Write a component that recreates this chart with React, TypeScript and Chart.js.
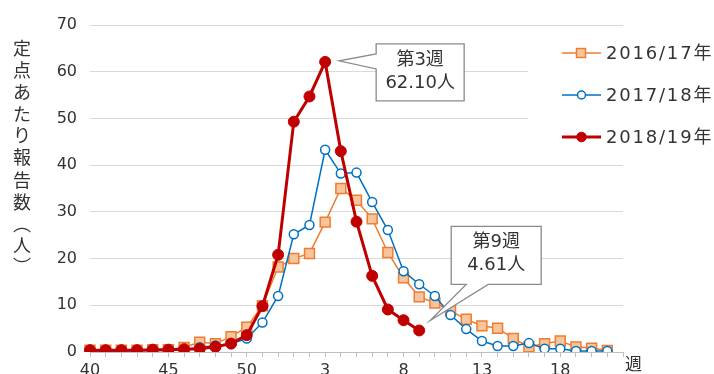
import React, { useEffect, useRef } from "react";
import { Chart, registerables } from "chart.js";

Chart.register(...registerables);

const weeks = [40, 41, 42, 43, 44, 45, 46, 47, 48, 49, 50, 51, 52, 1, 2, 3, 4, 5, 6, 7, 8, 9, 10, 11, 12, 13, 14, 15, 16, 17, 18, 19, 20, 21, 22];
const seasonLabels = ["2016/17年", "2017/18年", "2018/19年"];
const season1617 = [0.4, 0.4, 0.4, 0.4, 0.5, 0.5, 1.0, 2.1, 1.8, 3.3, 5.3, 9.9, 18.2, 20.0, 21.1, 27.8, 35.0, 32.5, 28.5, 21.3, 15.9, 11.8, 10.5, 8.8, 7.0, 5.6, 5.1, 2.9, 1.1, 1.8, 2.35, 1.1, 0.8, 0.35];
const season1718 = [0.1, 0.1, 0.2, 0.2, 0.3, 0.3, 0.5, 1.0, 1.4, 1.7, 2.9, 6.3, 12.0, 25.2, 27.2, 43.3, 38.2, 38.4, 32.1, 26.1, 17.3, 14.5, 12.0, 7.9, 4.9, 2.35, 1.3, 1.3, 1.9, 0.7, 0.7, 0.2, 0.2, 0.2];
const season1819 = [0.4, 0.4, 0.4, 0.4, 0.5, 0.5, 0.6, 0.7, 1.1, 1.8, 3.6, 9.8, 20.8, 49.3, 54.7, 62.1, 43.0, 27.9, 16.3, 9.1, 6.8, 4.61];
const yTicks = [0, 10, 20, 30, 40, 50, 60, 70];
const yTitleChars = ["定", "点", "あ", "た", "り", "報", "告", "数", "︵", "人", "︶"];
const xTitle = "週";
const callouts = [
  { dataset: 2, index: 15, lines: ["第3週", "62.10人"] },
  { dataset: 2, index: 21, lines: ["第9週", "4.61人"] },
];

const FONT = '"DejaVu Sans", "Noto Sans CJK JP", sans-serif';
const CJK = '"Noto Sans CJK JP", sans-serif';
const TEXT = "#333333";

const overlayPlugin = {
  id: "overlay",
  afterDatasetsDraw(chart: any) {
    const ctx = chart.ctx;
    ctx.save();
    callouts.forEach((c, ci) => {
      const el = chart.getDatasetMeta(c.dataset).data[c.index];
      const px = el.x, py = el.y;
      ctx.lineWidth = 1.3;
      ctx.strokeStyle = "#8a8a8a";
      ctx.fillStyle = "#ffffff";
      ctx.beginPath();
      let l, t, w, h;
      if (ci === 0) {
        l = px + 51; t = py - 18; w = 88; h = 57;
        const tx = px + 14, ty = py - 1;
        ctx.moveTo(l, t);
        ctx.lineTo(l + w, t);
        ctx.lineTo(l + w, t + h);
        ctx.lineTo(l, t + h);
        ctx.lineTo(l, t + 25);
        ctx.lineTo(tx, ty);
        ctx.lineTo(l, t + 10);
        ctx.closePath();
      } else {
        l = px + 32; t = py - 104; w = 90; h = 58;
        const tx = px + 11, ty = py - 10;
        ctx.moveTo(l, t);
        ctx.lineTo(l + w, t);
        ctx.lineTo(l + w, t + h);
        ctx.lineTo(l + 37, t + h);
        ctx.lineTo(tx, ty);
        ctx.lineTo(l + 15, t + h);
        ctx.lineTo(l, t + h);
        ctx.closePath();
      }
      ctx.fill();
      ctx.stroke();
      ctx.fillStyle = TEXT;
      ctx.textAlign = "center";
      ctx.textBaseline = "middle";
      ctx.font = `18px ${FONT}`;
      ctx.fillText(c.lines[0], l + w / 2, t + 16);
      ctx.fillText(c.lines[1], l + w / 2, t + 39);
    });
    ctx.restore();
  },
  afterDraw(chart: any) {
    const ctx = chart.ctx;
    const area = chart.chartArea;
    ctx.save();
    ctx.fillStyle = "#ffffff";
    ctx.fillRect(528, 30, 186, 125);
    const rows = [53, 95, 137];
    chart.data.datasets.forEach((ds: any, i: number) => {
      const y = rows[i];
      ctx.strokeStyle = ds.borderColor;
      ctx.lineWidth = ds.borderWidth;
      ctx.beginPath();
      ctx.moveTo(562, y);
      ctx.lineTo(601, y);
      ctx.stroke();
      ctx.fillStyle = ds.pointBackgroundColor;
      ctx.strokeStyle = ds.pointBorderColor;
      ctx.lineWidth = ds.pointBorderWidth;
      ctx.beginPath();
      if (ds.pointStyle === "rect") {
        ctx.rect(581 - 4.5, y - 4.5, 9, 9);
      } else {
        ctx.arc(581.5, y, i === 2 ? 4.8 : 4, 0, Math.PI * 2);
      }
      ctx.fill();
      ctx.stroke();
      ctx.fillStyle = TEXT;
      ctx.font = `18px ${FONT}`;
      (ctx as any).letterSpacing = "1.8px";
      ctx.textAlign = "left";
      ctx.textBaseline = "middle";
      ctx.fillText(ds.label, 606, y + 1);
      (ctx as any).letterSpacing = "0px";
    });
    ctx.fillStyle = TEXT;
    ctx.font = `18px ${CJK}`;
    ctx.textAlign = "center";
    ctx.textBaseline = "middle";
    const ys = [48, 70, 92, 114, 135, 157, 180, 202, 224, 245, 266];
    yTitleChars.forEach((ch, i) => ctx.fillText(ch, 22, ys[i]));
    ctx.font = `17px ${CJK}`;
    ctx.textAlign = "left";
    ctx.textBaseline = "top";
    ctx.fillText(xTitle, area.right + 2, area.bottom + 3);
    ctx.restore();
  },
};

export default function App() {
  const ref = useRef<HTMLCanvasElement>(null);
  useEffect(() => {
    const chart = new Chart(ref.current!, {
      type: "line",
      data: {
        labels: weeks,
        datasets: [
          {
            label: seasonLabels[0],
            data: season1617,
            borderColor: "#ED7D31",
            borderWidth: 1.5,
            pointStyle: "rect",
            pointRadius: 7,
            pointBackgroundColor: "#F8C49C",
            pointBorderColor: "#ED7D31",
            pointBorderWidth: 1.5,
            order: 2,
          },
          {
            label: seasonLabels[1],
            data: season1718,
            borderColor: "#0070C0",
            borderWidth: 1.5,
            pointStyle: "circle",
            pointRadius: 4.5,
            pointBackgroundColor: "#ffffff",
            pointBorderColor: "#0070C0",
            pointBorderWidth: 1.5,
            order: 1,
          },
          {
            label: seasonLabels[2],
            data: season1819,
            borderColor: "#C00000",
            borderWidth: 3,
            pointStyle: "circle",
            pointRadius: 5.5,
            pointBackgroundColor: "#C00000",
            pointBorderColor: "#C00000",
            pointBorderWidth: 1,
            order: 0,
          },
        ] as any,
      },
      options: {
        responsive: false,
        animation: false,
        events: [],
        layout: { padding: { left: 40, right: 91, top: 25, bottom: 14 } },
        plugins: { legend: { display: false }, tooltip: { enabled: false } },
        elements: { line: { tension: 0 } },
        scales: {
          x: {
            type: "category",
            offset: false,
            afterFit: (s: any) => { s.height = 24; },
            grid: { drawOnChartArea: false, drawTicks: true, tickLength: 5, color: "#bfbfbf" },
            border: { display: true, color: "#bfbfbf", width: 1 },
            ticks: {
              autoSkip: false,
              maxRotation: 0,
              padding: 4,
              color: TEXT,
              font: { family: FONT, size: 16 },
              callback: (_v: any, i: number) => (i % 5 === 0 ? String(weeks[i]) : ""),
            },
          },
          y: {
            min: yTicks[0],
            max: yTicks[yTicks.length - 1],
            afterFit: (s: any) => { s.width = 50; },
            grid: { color: "#d9d9d9", drawTicks: false, lineWidth: 1 },
            border: { display: false },
            ticks: {
              stepSize: 10,
              padding: 13,
              color: TEXT,
              font: { family: FONT, size: 16 },
            },
          },
        },
      },
      plugins: [overlayPlugin],
    } as any);
    return () => chart.destroy();
  }, []);
  return (
    <div style={{ position: "fixed", left: 0, top: 0, width: 714, height: 374, overflow: "hidden", background: "#fff" }}>
      <canvas ref={ref} width={714} height={390} style={{ display: "block" }} />
    </div>
  );
}
